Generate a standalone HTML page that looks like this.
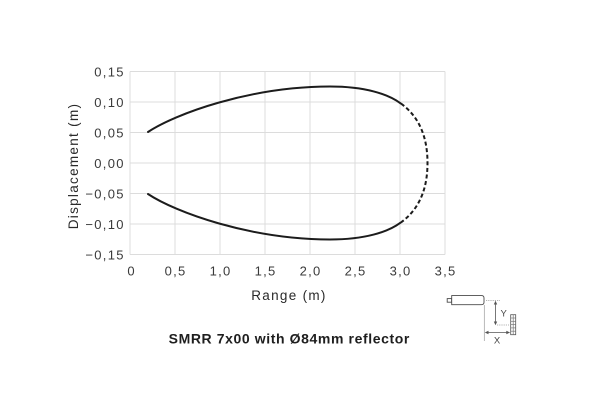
<!DOCTYPE html>
<html>
<head>
<meta charset="utf-8">
<style>
  html, body { margin:0; padding:0; background:#ffffff; }
  body { width:601px; height:414px; overflow:hidden; }
  svg { display:block; }
  .tick { font-family:"Liberation Sans", Arial, sans-serif; font-size:13px; fill:#3a3a3a; letter-spacing:1.3px; }
  .atitle { font-family:"Liberation Sans", Arial, sans-serif; font-size:13.5px; fill:#2a2a2a; letter-spacing:1.3px; }
  .title { font-family:"Liberation Sans", Arial, sans-serif; font-size:14px; font-weight:bold; fill:#1e1e1e; letter-spacing:0.6px; }
  .small { font-family:"Liberation Sans", Arial, sans-serif; font-size:9.5px; fill:#444; }
</style>
</head>
<body>
<svg width="601" height="414" viewBox="0 0 601 414" xmlns="http://www.w3.org/2000/svg">
  <rect x="0" y="0" width="601" height="414" fill="#ffffff"/>

  <!-- grid -->
  <g stroke="#dcdcdc" stroke-width="1" fill="none" shape-rendering="crispEdges">
    <line x1="130" y1="71.5" x2="130" y2="254.5"/>
    <line x1="175" y1="71.5" x2="175" y2="254.5"/>
    <line x1="220" y1="71.5" x2="220" y2="254.5"/>
    <line x1="265" y1="71.5" x2="265" y2="254.5"/>
    <line x1="310" y1="71.5" x2="310" y2="254.5"/>
    <line x1="355" y1="71.5" x2="355" y2="254.5"/>
    <line x1="400" y1="71.5" x2="400" y2="254.5"/>
    <line x1="445" y1="71.5" x2="445" y2="254.5"/>
    <line x1="130" y1="71.5" x2="445" y2="71.5"/>
    <line x1="130" y1="102" x2="445" y2="102"/>
    <line x1="130" y1="132.5" x2="445" y2="132.5"/>
    <line x1="130" y1="163" x2="445" y2="163"/>
    <line x1="130" y1="193.5" x2="445" y2="193.5"/>
    <line x1="130" y1="224" x2="445" y2="224"/>
    <line x1="130" y1="254.5" x2="445" y2="254.5"/>
  </g>

  <!-- y tick labels -->
  <g class="tick" text-anchor="end">
    <text x="124.8" y="76.3">0,15</text>
    <text x="124.8" y="106.8">0,10</text>
    <text x="124.8" y="137.3">0,05</text>
    <text x="124.8" y="167.8">0,00</text>
    <text x="124.8" y="198.3">−0,05</text>
    <text x="124.8" y="228.8">−0,10</text>
    <text x="124.8" y="259.3">−0,15</text>
  </g>

  <!-- x tick labels -->
  <g class="tick" text-anchor="middle">
    <text x="131.6" y="275.5">0</text>
    <text x="175.6" y="275.5">0,5</text>
    <text x="220.6" y="275.5">1,0</text>
    <text x="265.6" y="275.5">1,5</text>
    <text x="310.6" y="275.5">2,0</text>
    <text x="355.6" y="275.5">2,5</text>
    <text x="400.6" y="275.5">3,0</text>
    <text x="445.6" y="275.5">3,5</text>
  </g>

  <!-- axis titles -->
  <text class="atitle" x="289" y="300" text-anchor="middle">Range (m)</text>
  <text class="atitle" transform="translate(78,166) rotate(-90)" text-anchor="middle">Displacement (m)</text>

  <!-- curves -->
  <g fill="none" stroke="#1c1c1c" stroke-width="2" stroke-linecap="round">
    <path d="M148,132 C175,114 250,86.5 330,86.5 C365,86.5 388,94 400.5,103.3"/>
    <path transform="matrix(1,0,0,-1,0,326)" d="M148,132 C175,114 250,86.5 330,86.5 C365,86.5 388,94 400.5,103.3"/>
    <path stroke-linecap="butt" stroke-dasharray="4,2.6" d="M401,103.6 C421,118 427.5,140 427.5,163 C427.5,186 421,208 401,222.4"/>
  </g>

  <!-- chart title -->
  <text class="title" x="289.3" y="343.3" text-anchor="middle">SMRR 7x00 with Ø84mm reflector</text>

  <!-- sensor icon -->
  <g fill="#ffffff" stroke="#4a4a4a" stroke-width="0.9">
    <rect x="447.2" y="298.6" width="4.5" height="3.6"/>
    <path d="M451.7,295.6 L481.5,295.6 Q484,295.6 484,298 L484,302.3 Q484,304.7 481.5,304.7 L451.7,304.7 Z"/>
  </g>
  <g stroke="#9a9a9a" stroke-width="0.7" fill="none">
    <line x1="484.3" y1="305" x2="484.3" y2="341"/>
    <line x1="486" y1="300.5" x2="500" y2="300.5" stroke-dasharray="1.2,1"/>
    <line x1="497" y1="325" x2="509" y2="325" stroke-dasharray="1.2,1"/>
  </g>
  <g stroke="#555" stroke-width="0.8" fill="none">
    <line x1="495.5" y1="302" x2="495.5" y2="324"/>
    <line x1="486" y1="332.5" x2="509.5" y2="332.5"/>
  </g>
  <g fill="#555">
    <polygon points="495.5,300.8 493.8,304.5 497.2,304.5"/>
    <polygon points="495.5,325.2 493.8,321.5 497.2,321.5"/>
    <polygon points="484.8,332.5 488.5,330.8 488.5,334.2"/>
    <polygon points="510,332.5 506.3,330.8 506.3,334.2"/>
  </g>
  <text class="small" x="500.5" y="316.5">Y</text>
  <text class="small" x="497" y="343.5" text-anchor="middle">X</text>
  <!-- reflector -->
  <g stroke="#555" stroke-width="0.8" fill="#ffffff">
    <rect x="510.7" y="314.7" width="5" height="20"/>
  </g>
  <g stroke="#777" stroke-width="0.7" fill="none">
    <line x1="510.7" y1="318" x2="515.7" y2="318"/>
    <line x1="510.7" y1="321.3" x2="515.7" y2="321.3"/>
    <line x1="510.7" y1="324.6" x2="515.7" y2="324.6"/>
    <line x1="510.7" y1="327.9" x2="515.7" y2="327.9"/>
    <line x1="510.7" y1="331.2" x2="515.7" y2="331.2"/>
    <line x1="513.2" y1="314.7" x2="513.2" y2="334.7"/>
  </g>
</svg>
</body>
</html>
